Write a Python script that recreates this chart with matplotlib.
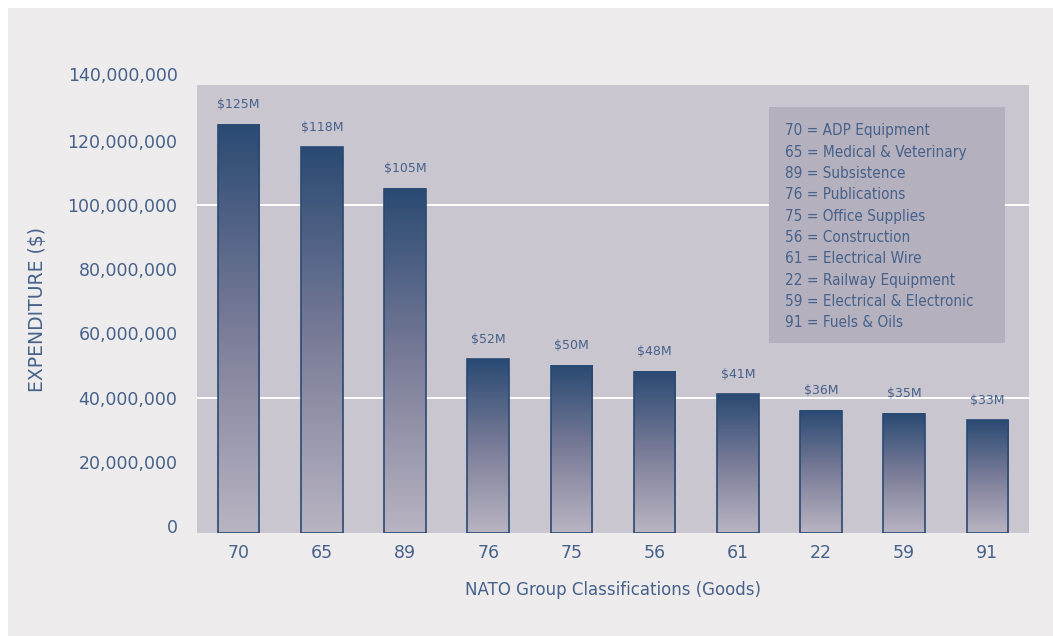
import numpy as np
import matplotlib.pyplot as plt
from matplotlib.colors import LinearSegmentedColormap
from matplotlib.patches import Rectangle

# NATO group codes and spend in $M
groups = ["70", "65", "89", "76", "75", "56", "61", "22", "59", "91"]
spend_m = [125, 118, 105, 52, 50, 48, 41, 36, 35, 33]
key_lines = [
    "70 = ADP Equipment",
    "65 = Medical & Veterinary",
    "89 = Subsistence",
    "76 = Publications",
    "75 = Office Supplies",
    "56 = Construction",
    "61 = Electrical Wire",
    "22 = Railway Equipment",
    "59 = Electrical & Electronic",
    "91 = Fuels & Oils",
]
y_ticks = [0, 20e6, 40e6, 60e6, 80e6, 100e6, 120e6, 140e6]

navy = "#2a4a73"
text_col = "#46618a"
panel_bg = "#edebec"
plot_bg = "#c9c6d0"
key_bg = "#b4b0be"

plt.rcParams["font.family"] = ["DejaVu Sans"]

W, H = 1053, 636
fig = plt.figure(figsize=(W / 100, H / 100), dpi=100)
fig.patch.set_facecolor("white")
fig.patches.append(Rectangle((8 / W, 0), 1 - 8 / W, 1 - 8 / H, transform=fig.transFigure,
                             facecolor=panel_bg, edgecolor="none", zorder=-5))

ax = fig.add_axes([197 / W, 1 - 533 / H, 832 / W, 448 / H])
ax.set_facecolor(plot_bg)
for s in ax.spines.values():
    s.set_visible(False)

# the floor sits a little below zero
ylo, yhi = -2.1e6, 137.3e6
x = np.arange(len(groups))
values = np.array(spend_m) * 1e6
width = 0.5

for yv in (40e6, 100e6):
    ax.axhline(yv, color="white", lw=1.4, zorder=1)

cmap = LinearSegmentedColormap.from_list("bar", ["#b9b4c2", "#7a7c98", navy])
grad = np.linspace(0, 1, 256).reshape(-1, 1)
for xi, v in zip(x, values):
    ax.imshow(grad, extent=[xi - width / 2, xi + width / 2, ylo, v], origin="lower",
              aspect="auto", cmap=cmap, zorder=2, interpolation="bicubic")
    ax.text(xi, v + 4.2e6, f"${int(round(v / 1e6))}M", ha="center", va="bottom",
            fontsize=9, color=text_col, zorder=4)
ax.bar(x, values - ylo, bottom=ylo, width=width, facecolor="none", edgecolor=navy,
       linewidth=1.2, zorder=3)

ax.set_xlim(-0.5, len(groups) - 0.5)
ax.set_ylim(ylo, yhi)
ax.set_xticks(x)
ax.set_xticklabels(groups, fontsize=12.5, color=text_col)
ax.set_yticks([t for t in y_ticks if t <= yhi])
ax.set_yticklabels([f"{int(t):,}" for t in y_ticks if t <= yhi], fontsize=12.5, color=text_col)
ax.tick_params(axis="x", length=0, pad=8)
ax.tick_params(axis="y", length=0, pad=14)
# top label sits above the plotting area
for t in y_ticks:
    if t > yhi:
        ax.annotate(f"{int(t):,}", xy=(0, t), xycoords=ax.get_yaxis_transform(),
                    xytext=(-14, 0), textcoords="offset points", ha="right", va="center",
                    fontsize=12.5, color=text_col, annotation_clip=False)

fig.text(38 / W, 1 - 309 / H, "EXPENDITURE ($)", rotation=90, ha="center", va="center",
         fontsize=13.5, color=text_col)
fig.text(613 / W, 1 - 590 / H, "NATO Group Classifications (Goods)", ha="center", va="center",
         fontsize=12, color=text_col)

# key box
fig.patches.append(Rectangle((769 / W, 1 - 343 / H), 236 / W, 236 / H, transform=fig.transFigure,
                             facecolor=key_bg, edgecolor="none", zorder=5))
for i, line in enumerate(key_lines):
    fig.text(785 / W, 1 - (131 + i * 21.3) / H, line, ha="left", va="center",
             fontsize=11, color=text_col, family="DejaVu Sans", fontstretch="condensed", zorder=6)

fig.savefig("out.png", dpi=100, facecolor=fig.get_facecolor())
